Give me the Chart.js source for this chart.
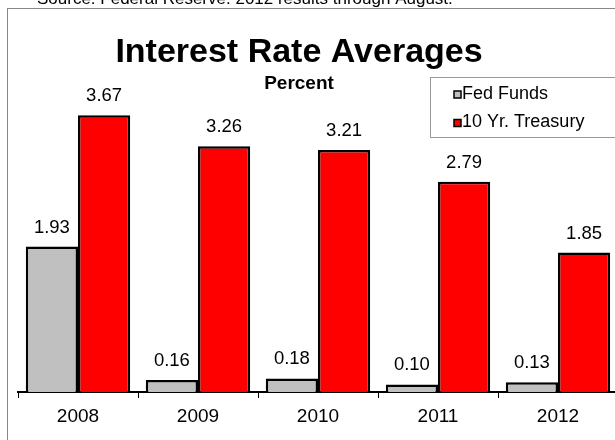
<!DOCTYPE html>
<html>
<head>
<meta charset="utf-8">
<script src="https://cdn.jsdelivr.net/npm/chart.js@4"></script>
<style>
  html, body { margin: 0; padding: 0; background: #fff; overflow: hidden; }
  #wrap { position: relative; width: 615px; height: 440px; overflow: hidden; }
  #frame { position: absolute; left: 7px; top: 8px; width: 700px; height: 500px; border: 1px solid #888; box-sizing: border-box; }
  #box { position: absolute; left: 0; top: 0; width: 625px; height: 440px; }
</style>
</head>
<body>
<div id="wrap">
  <div id="frame"></div>
  <div id="box"><canvas id="rates"></canvas></div>
</div>
<script>
var years = ["2008", "2009", "2010", "2011", "2012"];
var fedFunds = [1.93, 0.16, 0.18, 0.10, 0.13];
var treasury10 = [3.67, 3.26, 3.21, 2.79, 1.85];
var seriesNames = ["Fed Funds", "10 Yr. Treasury"];
var seriesColors = ["#C0C0C0", "#FF0000"];

var FONT = "'Liberation Sans', Arial, sans-serif";

// title, source line, legend box and the value over each bar
var extras = {
  id: 'extras',
  afterDatasetsDraw: function (chart) {
    var ctx = chart.ctx;
    ctx.save();
    ctx.fillStyle = '#000';

    ctx.textAlign = 'left';
    ctx.textBaseline = 'alphabetic';
    ctx.font = '17px ' + FONT;
    ctx.fillText('Source: Federal Reserve. 2012 results through August.', 37, 4);

    // values above bars
    ctx.textAlign = 'center';
    ctx.font = '18.5px ' + FONT;
    chart.data.datasets.forEach(function (ds, i) {
      chart.getDatasetMeta(i).data.forEach(function (bar, j) {
        ctx.fillText(ds.data[j].toFixed(2), bar.x, bar.y - 14);
      });
    });

    ctx.font = 'bold 34px ' + FONT;
    ctx.fillText('Interest Rate Averages', 299, 62);
    ctx.font = 'bold 19px ' + FONT;
    ctx.fillText('Percent', 299, 89);

    // legend
    ctx.fillStyle = '#fff';
    ctx.fillRect(430.5, 77.5, 200, 60);
    ctx.strokeStyle = '#999';
    ctx.lineWidth = 1;
    ctx.strokeRect(430.5, 77.5, 200, 60);
    ctx.textAlign = 'left';
    ctx.font = '18px ' + FONT;
    seriesNames.forEach(function (name, i) {
      var y = 98.5 + i * 28.5;
      ctx.fillStyle = seriesColors[i];
      ctx.fillRect(454, y - 7.5, 7, 7);
      ctx.strokeStyle = '#000';
      ctx.lineWidth = 1.5;
      ctx.strokeRect(454, y - 7.5, 7, 7);
      ctx.fillStyle = '#000';
      ctx.fillText(name, 462, y);
    });
    ctx.restore();
  }
};

new Chart(document.getElementById('rates'), {
  type: 'bar',
  data: {
    labels: years,
    datasets: [
      {
        label: seriesNames[0],
        data: fedFunds,
        backgroundColor: seriesColors[0],
        borderColor: '#000',
        borderWidth: 2.5
      },
      {
        label: seriesNames[1],
        data: treasury10,
        backgroundColor: seriesColors[1],
        borderColor: '#000',
        borderWidth: 2.5
      }
    ]
  },
  options: {
    responsive: true,
    maintainAspectRatio: false,
    animation: false,
    layout: { padding: { left: 18, right: 7, top: 0, bottom: 0 } },
    datasets: {
      bar: { categoryPercentage: 0.87, barPercentage: 1.0 }
    },
    plugins: {
      legend: { display: false },
      title: { display: false },
      tooltip: { enabled: false }
    },
    scales: {
      x: {
        offset: true,
        afterFit: function (scale) { scale.height = 48; },
        grid: {
          display: true,
          offset: true,
          drawOnChartArea: false,
          drawTicks: true,
          tickLength: 6,
          color: '#000'
        },
        border: { display: true, color: '#000', width: 2 },
        ticks: {
          color: '#000',
          padding: 7,
          font: { family: FONT, size: 19 }
        }
      },
      y: {
        display: false,
        min: 0,
        max: 5.2
      }
    }
  },
  plugins: [extras]
});
</script>
</body>
</html>
